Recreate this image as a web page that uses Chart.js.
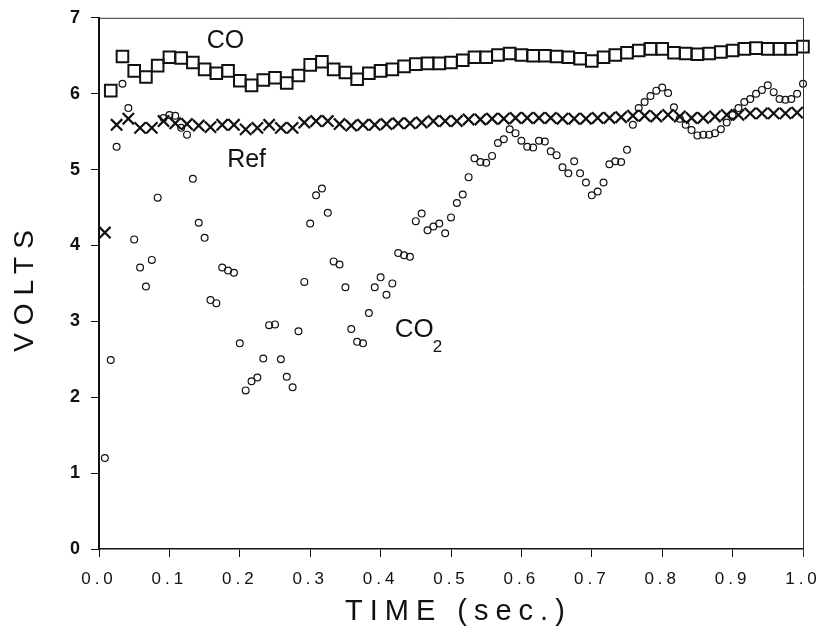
<!DOCTYPE html>
<html>
<head>
<meta charset="utf-8">
<title>VOLTS vs TIME</title>
<script src="https://cdn.jsdelivr.net/npm/chart.js"></script>
<style>
  html, body { margin: 0; padding: 0; background: #fff; }
  canvas { display: block; }
</style>
</head>
<body>
<canvas id="voltsChart" width="829" height="630"></canvas>
<script>
// sample times: CO2 every 1/120 s, Ref and CO on alternate samples
const timeFine = Array.from({ length: 120 }, (_, i) => (i + 1) / 120);
const timeRef = timeFine.filter((_, i) => i % 2 === 0);
const timeCO = timeFine.filter((_, i) => i % 2 === 1);

const coVolts = [
  6.04, 6.49, 6.30, 6.22, 6.37, 6.48, 6.47, 6.41, 6.32, 6.27,
  6.30, 6.17, 6.11, 6.18, 6.21, 6.14, 6.24, 6.38, 6.42, 6.32,
  6.28, 6.19, 6.27, 6.30, 6.32, 6.36, 6.39, 6.40, 6.40, 6.41,
  6.44, 6.48, 6.48, 6.51, 6.53, 6.51, 6.50, 6.50, 6.49, 6.48,
  6.46, 6.43, 6.48, 6.51, 6.54, 6.57, 6.59, 6.59, 6.54, 6.53,
  6.52, 6.53, 6.55, 6.57, 6.59, 6.60, 6.59, 6.59, 6.59, 6.62
];

const refVolts = [
  4.17, 5.59, 5.67, 5.55, 5.55, 5.64, 5.61, 5.60, 5.58, 5.56,
  5.59, 5.59, 5.53, 5.55, 5.59, 5.55, 5.55, 5.62, 5.64, 5.64,
  5.60, 5.58, 5.59, 5.59, 5.60, 5.61, 5.61, 5.62, 5.64, 5.64,
  5.64, 5.66, 5.66, 5.67, 5.67, 5.68, 5.68, 5.68, 5.68, 5.67,
  5.67, 5.67, 5.68, 5.68, 5.69, 5.71, 5.71, 5.70, 5.72, 5.70,
  5.68, 5.68, 5.70, 5.72, 5.72, 5.74, 5.74, 5.74, 5.74, 5.75
];

const co2Volts = [
  1.20, 2.49, 5.30, 6.13, 5.81, 4.08, 3.71, 3.46, 3.81, 4.63,
  5.68, 5.72, 5.71, 5.55, 5.46, 4.88, 4.30, 4.10, 3.28, 3.24,
  3.71, 3.67, 3.64, 2.71, 2.09, 2.21, 2.26, 2.51, 2.95, 2.96,
  2.50, 2.27, 2.13, 2.87, 3.52, 4.29, 4.66, 4.75, 4.43, 3.79,
  3.75, 3.45, 2.90, 2.73, 2.71, 3.11, 3.45, 3.58, 3.35, 3.50,
  3.90, 3.87, 3.85, 4.32, 4.42, 4.20, 4.25, 4.29, 4.16, 4.37,
  4.56, 4.67, 4.90, 5.15, 5.10, 5.09, 5.18, 5.35, 5.40, 5.53,
  5.48, 5.38, 5.30, 5.29, 5.38, 5.37, 5.24, 5.19, 5.03, 4.95,
  5.11, 4.95, 4.83, 4.66, 4.71, 4.83, 5.07, 5.11, 5.10, 5.26,
  5.59, 5.81, 5.89, 5.97, 6.04, 6.08, 6.01, 5.82, 5.67, 5.59,
  5.52, 5.45, 5.46, 5.46, 5.48, 5.53, 5.62, 5.72, 5.81, 5.89,
  5.93, 6.00, 6.05, 6.11, 6.02, 5.93, 5.92, 5.93, 6.00, 6.13
];

const FONT = '"Liberation Sans", Arial, sans-serif';
const INK = '#111';

const toPoints = (times, values) => times.map((t, i) => ({ x: t, y: values[i] }));

// frame, axis titles and curve labels
const decorations = {
  id: 'decorations',
  beforeDraw(chart) {
    chart.ctx.letterSpacing = '4px';
  },
  afterDraw(chart) {
    const { ctx, chartArea: a, scales: { x, y } } = chart;
    ctx.save();
    ctx.letterSpacing = '0px';
    ctx.strokeStyle = '#333';
    ctx.lineWidth = 1;
    ctx.beginPath();
    ctx.moveTo(a.left, a.top + 0.5);
    ctx.lineTo(a.right + 0.5, a.top + 0.5);
    ctx.lineTo(a.right + 0.5, a.bottom + 8);
    ctx.stroke();

    ctx.fillStyle = INK;
    ctx.textBaseline = 'alphabetic';
    ctx.textAlign = 'left';

    ctx.font = '25px ' + FONT;
    ctx.fillText('CO', x.getPixelForValue(0.153), y.getPixelForValue(6.6));
    ctx.fillText('Ref', x.getPixelForValue(0.182), y.getPixelForValue(5.03));

    const co2x = x.getPixelForValue(0.42);
    const co2y = y.getPixelForValue(2.79);
    ctx.font = '26px ' + FONT;
    ctx.fillText('CO', co2x, co2y);
    const w = ctx.measureText('CO').width;
    ctx.font = '17px ' + FONT;
    ctx.fillText('2', co2x + w - 1, co2y + 15);

    ctx.font = '29px ' + FONT;
    ctx.letterSpacing = '7px';
    ctx.fillText('TIME (sec.)', 345, 620);

    ctx.translate(25, 287);
    ctx.rotate(-Math.PI / 2);
    ctx.font = '28px ' + FONT;
    ctx.letterSpacing = '8px';
    ctx.textAlign = 'center';
    ctx.textBaseline = 'middle';
    ctx.fillText('VOLTS', 0, 0);
    ctx.restore();
  }
};

new Chart(document.getElementById('voltsChart'), {
  type: 'scatter',
  data: {
    datasets: [
      {
        label: 'CO2',
        data: toPoints(timeFine, co2Volts),
        pointStyle: 'circle',
        pointRadius: 3.4,
        pointBorderWidth: 1.2,
        pointBorderColor: INK,
        pointBackgroundColor: 'rgba(255,255,255,0)'
      },
      {
        label: 'Ref',
        data: toPoints(timeRef, refVolts),
        pointStyle: 'crossRot',
        pointRadius: 8,
        pointBorderWidth: 2.2,
        pointBorderColor: INK
      },
      {
        label: 'CO',
        data: toPoints(timeCO, coVolts),
        pointStyle: 'rect',
        pointRadius: 8.2,
        pointBorderWidth: 2,
        pointBorderColor: INK,
        pointBackgroundColor: 'rgba(255,255,255,0)'
      }
    ]
  },
  options: {
    responsive: false,
    devicePixelRatio: 1,
    animation: false,
    clip: false,
    layout: { padding: { top: 17, right: 26, left: 0, bottom: 0 } },
    plugins: {
      legend: { display: false },
      tooltip: { enabled: false }
    },
    scales: {
      x: {
        type: 'linear',
        min: 0,
        max: 1,
        afterFit: s => { s.height = 81; },
        border: { color: INK, width: 1.5 },
        grid: { drawOnChartArea: false, tickLength: 8, color: INK, lineWidth: 1 },
        ticks: {
          stepSize: 0.1,
          padding: 12,
          color: INK,
          font: { family: FONT, size: 17 },
          callback: v => v.toFixed(1)
        }
      },
      y: {
        min: 0,
        max: 7,
        afterFit: s => { s.width = 99; },
        border: { color: INK, width: 2 },
        grid: { drawOnChartArea: false, tickLength: 8, color: INK, lineWidth: 1 },
        ticks: {
          stepSize: 1,
          padding: 7,
          color: INK,
          font: { family: FONT, size: 18, weight: 'bold' }
        }
      }
    }
  },
  plugins: [decorations]
});
</script>
</body>
</html>
